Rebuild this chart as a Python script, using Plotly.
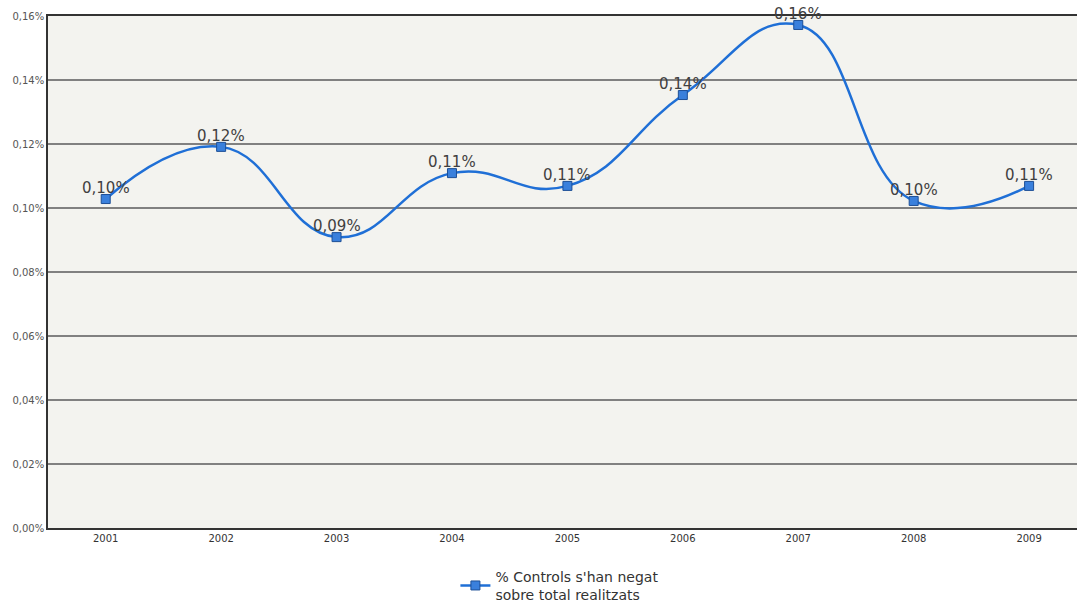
import plotly.graph_objects as go

years = ["2001", "2002", "2003", "2004", "2005", "2006", "2007", "2008", "2009"]
values = [0.1028, 0.1191, 0.0909, 0.1109, 0.1069, 0.1353, 0.1572, 0.1022, 0.1069]
series_name = "% Controls s'han negat<br>sobre total realitzats"
y_ticks = [0.00, 0.02, 0.04, 0.06, 0.08, 0.10, 0.12, 0.14, 0.16]
y_tick_text = ["0,00%", "0,02%", "0,04%", "0,06%", "0,08%", "0,10%", "0,12%", "0,14%", "0,16%"]

fig = go.Figure()
fig.add_trace(go.Scatter(
    x=years, y=values, mode="lines+markers", name=series_name,
    line=dict(color="#1f6fd6", width=2.5, shape="spline", smoothing=1.3),
    marker=dict(symbol="square", size=9, color="#3a80dc", line=dict(color="#1d4f96", width=1)),
    cliponaxis=False,
))

for i, v in enumerate(values):
    fig.add_annotation(x=i, y=v, text=f"{v:.2f}%".replace(".", ","), showarrow=False,
                       yshift=11, font=dict(family="DejaVu Sans", size=15, color="#404040"))

fig.update_layout(
    width=1077, height=606,
    margin=dict(l=48, r=0, t=16, b=78, autoexpand=False),
    paper_bgcolor="white", plot_bgcolor="#f3f3ef",
    showlegend=True,
    legend=dict(orientation="h", x=0.497, xanchor="center", y=-0.064, yanchor="top",
                itemwidth=30,
                font=dict(family="DejaVu Sans", size=14, color="#333333")),
    xaxis=dict(type="category", range=[-0.5, 8.415], showgrid=False, automargin=False,
               showline=True, linecolor="#333333", linewidth=1.5, mirror=True,
               ticks="", tickfont=dict(family="DejaVu Sans", size=10, color="#333333")),
    yaxis=dict(range=[0, 0.16], tickvals=y_ticks, ticktext=y_tick_text, automargin=False,
               showgrid=True, gridcolor="#808080", gridwidth=1.5,
               showline=True, linecolor="#333333", linewidth=1.5, mirror=True,
               zeroline=False, ticks="",
               tickfont=dict(family="DejaVu Sans", size=10, color="#555555")),
)

fig.write_html("out.html", config={"displayModeBar": False},
               post_script="document.body.style.margin='0';document.body.style.overflow='hidden';")
